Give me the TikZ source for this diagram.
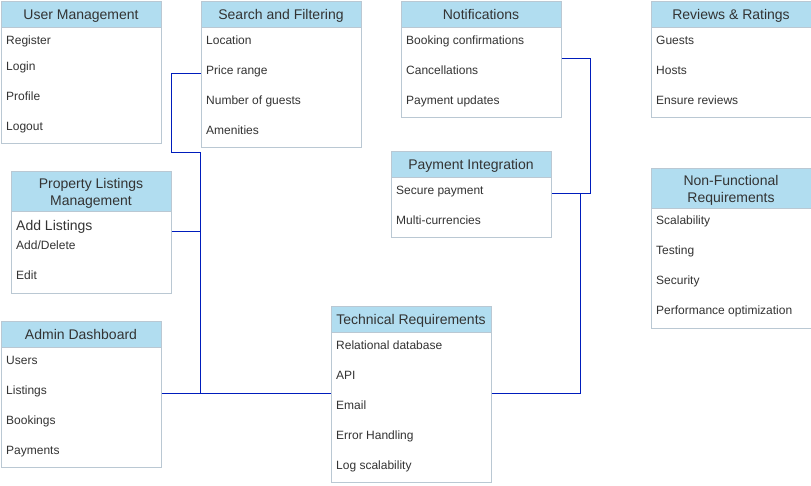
\documentclass[tikz,border=0pt]{standalone}
\usepackage{fontspec}
\setmainfont{Liberation Sans}
\definecolor{hdrfill}{HTML}{B1DDF0}
\definecolor{bordercol}{HTML}{BAC8D3}
\definecolor{txtcol}{HTML}{333333}
\definecolor{linkcol}{HTML}{001DBC}
\tikzset{
  boxstyle/.style={draw=bordercol, line width=1pt, fill=white, inner sep=0pt, anchor=north west},
  hdrstyle/.style={draw=bordercol, line width=1pt, fill=hdrfill, inner sep=0pt, anchor=north west,
     font=\fontsize{14}{16.7}\selectfont, text=txtcol, align=center, text height=12pt, text depth=1pt},
  twoline/.style={text height=29.7pt},
  oneline/.style={},
  item/.style={font=\fontsize{12}{14}\selectfont, text=txtcol, anchor=west, inner sep=0pt,
     text height=8.6pt, text depth=0pt},
  bigitem/.style={font=\fontsize{14}{16}\selectfont, text=txtcol, anchor=west, inner sep=0pt,
     text height=10pt, text depth=0pt},
  link/.style={draw=linkcol, line width=1pt}
}
\newcommand\ermtable[8]{%
  \node[boxstyle, minimum width=#4pt, minimum height=#6pt] (#1) at (#2,#3) {};
  \node[hdrstyle, #8, minimum width=#4pt, minimum height=#5pt] (#1h) at (#2,#3) {#7};
}
\begin{document}
\begin{tikzpicture}[x=1pt,y=-1pt]
\useasboundingbox (0,0) rectangle (811,485);
% tables
\ermtable{um}{0.5}{0.5}{160}{26}{142}{User Management}{oneline}
\node[item] (um1) at (6,40) {Register};
\node[item] (um2) at (6,66) {Login};
\node[item] (um3) at (6,96) {Profile};
\node[item] (um4) at (6,126) {Logout};

\ermtable{sf}{200.5}{0.5}{160}{26}{146}{Search and Filtering}{oneline}
\node[item] (sf1) at (206,40) {Location};
\node[item] (sf2) at (206,70) {Price range};
\node[item] (sf3) at (206,100) {Number of guests};
\node[item] (sf4) at (206,130) {Amenities};

\ermtable{nt}{400.5}{0.5}{160}{26}{116}{Notifications}{oneline}
\node[item] (nt1) at (406,40) {Booking confirmations};
\node[item] (nt2) at (406,70) {Cancellations};
\node[item] (nt3) at (406,100) {Payment updates};

\ermtable{rr}{650.5}{0.5}{160}{26}{116}{Reviews \& Ratings}{oneline}
\node[item] (rr1) at (656,40) {Guests};
\node[item] (rr2) at (656,70) {Hosts};
\node[item] (rr3) at (656,100) {Ensure reviews};

\ermtable{pi}{390.5}{150.5}{160}{26}{86}{Payment Integration}{oneline}
\node[item] (pi1) at (396,190) {Secure payment};
\node[item] (pi2) at (396,220) {Multi-currencies};

\ermtable{nf}{650.5}{167.5}{160}{40}{160}{Non-Functional\\Requirements}{twoline}
\node[item] (nf1) at (656,220) {Scalability};
\node[item] (nf2) at (656,250) {Testing};
\node[item] (nf3) at (656,280) {Security};
\node[item] (nf4) at (656,310) {Performance optimization};

\ermtable{pl}{10.5}{170.5}{160}{40}{122}{Property Listings\\Management}{twoline}
\node[bigitem] (pl0) at (16,225) {Add Listings};
\node[item] (pl1) at (16,245) {Add/Delete};
\node[item] (pl2) at (16,275) {Edit};

\ermtable{ad}{0.5}{320.5}{160}{26}{146}{Admin Dashboard}{oneline}
\node[item] (ad1) at (6,360) {Users};
\node[item] (ad2) at (6,390) {Listings};
\node[item] (ad3) at (6,420) {Bookings};
\node[item] (ad4) at (6,450) {Payments};

\ermtable{tr}{330.5}{305.5}{160}{26}{176}{Technical Requirements}{oneline}
\node[item] (tr1) at (336,345) {Relational database};
\node[item] (tr2) at (336,375) {API};
\node[item] (tr3) at (336,405) {Email};
\node[item] (tr4) at (336,435) {Error Handling};
\node[item] (tr5) at (336,465) {Log scalability};

% connectors
\coordinate (j1) at (171,73.5);
\coordinate (j2) at (171,152.5);
\coordinate (j3) at (200.5,152.5);
\coordinate (j4) at (200.5,393.5);
\coordinate (pljoin) at (200.5,231.5);
\coordinate (k1) at (580.5,393.5);
\coordinate (k2) at (580.5,193.5);
\coordinate (m1) at (590.5,58.5);
\coordinate (m2) at (590.5,193.5);
\draw[link] (sf.west |- j1) -- (j1) -- (j2) -- (j3) -- (j4);
\draw[link] (pl.east |- pljoin) -- (pljoin);
\draw[link] (ad.east |- j4) -- (j4) -- (tr.west |- j4);
\draw[link] (tr.east |- k1) -- (k1) -- (k2);
\draw[link] (nt.east |- m1) -- (m1) -- (m2) -- (pi.east |- m2);
\end{tikzpicture}
\end{document}
